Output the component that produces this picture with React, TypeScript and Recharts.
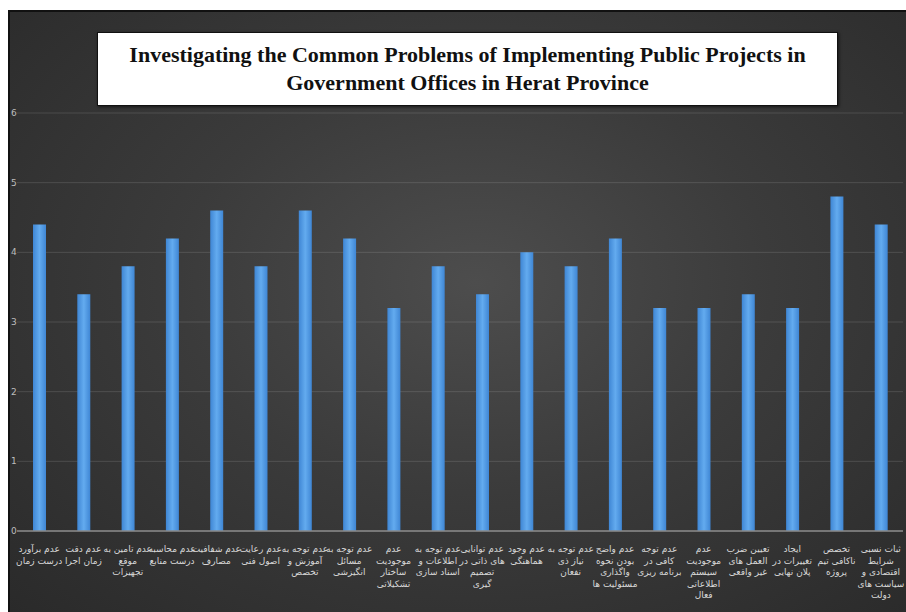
import { Bar, BarChart, CartesianGrid, XAxis, YAxis } from 'recharts'

const categories = [
    'عدم برآورد|درست زمان',
    'عدم دقت|زمان اجرا',
    'عدم تامین به|موقع|تجهیزات',
    'عدم محاسبه|درست منابع',
    'عدم شفافیت|مصارف',
    'عدم رعایت|اصول فنی',
    'عدم توجه به|آموزش و|تخصص',
    'عدم توجه به|مسائل|انگیزشی',
    'عدم|موجودیت|ساختار|تشکیلاتی',
    'عدم توجه به|اطلاعات و|اسناد سازی',
    'عدم توانایی|های ذاتی در|تصمیم|گیری',
    'عدم وجود|هماهنگی',
    'عدم توجه به|نیاز ذی|نفعان',
    'عدم واضح|بودن نحوه|واگذاری|مسئولیت ها',
    'عدم توجه|کافی در|برنامه ریزی',
    'عدم|موجودیت|سیستم|اطلاعاتی|فعال',
    'تعیین ضرب|العمل های|غیر واقعی',
    'ایجاد|تغییرات در|پلان نهایی',
    'تخصص|ناکافی تیم|پروژه',
    'ثبات نسبی|شرایط|اقتصادی و|سیاست های|دولت',
]
const values = [4.4, 3.4, 3.8, 4.2, 4.6, 3.8, 4.6, 4.2, 3.2, 3.8, 3.4, 4.0, 3.8, 4.2, 3.2, 3.2, 3.4, 3.2, 4.8, 4.4]
const yTicks = [0, 1, 2, 3, 4, 5, 6]

const data = categories.map((name, i) => ({ name, value: values[i] }))

const CategoryTick = ({ x, y, payload }: any) => {
    const lines = String(payload.value).split('|')
    return (
        <text
            x={x}
            y={y + 13}
            fill="#d8d8d8"
            fontSize={9}
            fontFamily="DejaVu Sans"
            textAnchor="middle"
            direction="rtl"
        >
            {lines.map((l, i) => (
                <tspan key={i} x={x} dy={i === 0 ? 0 : 11.5}>
                    {l}
                </tspan>
            ))}
        </text>
    )
}

const ValueTick = ({ y, payload }: any) => (
    <text x={3} y={y + 3} fill="#bdbdbd" fontSize={9} fontFamily="DejaVu Sans">
        {payload.value}
    </text>
)

export default function App() {
    return (
        <div
            style={{
                position: 'fixed',
                left: 0,
                top: 0,
                width: 906,
                height: 612,
                background: '#fff',
                overflow: 'hidden',
            }}
        >
            <div
                style={{
                    position: 'absolute',
                    left: 8,
                    top: 10,
                    width: 898,
                    height: 602,
                    borderLeft: '2px solid #111',
                    borderTop: '2px solid #111',
                    boxSizing: 'border-box',
                    background:
                        'radial-gradient(ellipse at 52% 45%, #4d4d4d 0%, #3b3b3b 45%, #2a2a2a 100%)',
                }}
            />
            <div style={{ position: 'absolute', left: 8, top: 10 }}>
                <BarChart
                    width={898}
                    height={602}
                    data={data}
                    margin={{ top: 103, right: 3, bottom: 0, left: 0 }}
                    barCategoryGap={0}
                >
                    <defs>
                        <linearGradient id="barFill" x1="0" y1="0" x2="1" y2="0">
                            <stop offset="0%" stopColor="#3f86d4" />
                            <stop offset="50%" stopColor="#63abef" />
                            <stop offset="100%" stopColor="#3f86d4" />
                        </linearGradient>
                    </defs>
                    <CartesianGrid
                        vertical={false}
                        stroke="rgba(255,255,255,0.13)"
                        strokeWidth={1}
                    />
                    <XAxis
                        dataKey="name"
                        interval={0}
                        height={81}
                        tickLine={false}
                        axisLine={{ stroke: '#8a8a8a', strokeWidth: 1.5 }}
                        tick={<CategoryTick />}
                    />
                    <YAxis
                        domain={[0, 6]}
                        ticks={yTicks}
                        width={9}
                        axisLine={false}
                        tickLine={false}
                        tick={<ValueTick />}
                    />
                    <Bar
                        dataKey="value"
                        fill="url(#barFill)"
                        barSize={13}
                        isAnimationActive={false}
                    />
                </BarChart>
            </div>
            <div
                style={{
                    position: 'absolute',
                    left: 97,
                    top: 32,
                    width: 741,
                    height: 74,
                    background: '#fff',
                    border: '1.5px solid #111',
                    boxSizing: 'border-box',
                    boxShadow: '1px 1px 3px rgba(0,0,0,0.6)',
                    display: 'flex',
                    alignItems: 'center',
                    justifyContent: 'center',
                    textAlign: 'center',
                    fontFamily: '"Liberation Serif", "Times New Roman", serif',
                    fontWeight: 'bold',
                    fontSize: 22,
                    lineHeight: '28px',
                    color: '#111',
                }}
            >
                <div>
                    Investigating the Common Problems of Implementing Public Projects in
                    <br />
                    Government Offices in Herat Province
                </div>
            </div>
        </div>
    )
}
